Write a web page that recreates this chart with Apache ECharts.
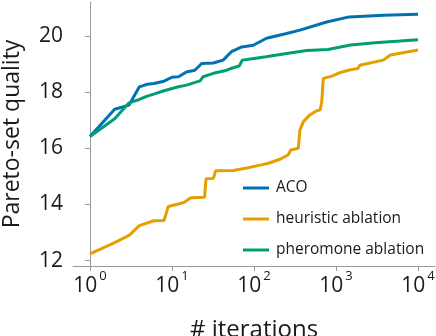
<!DOCTYPE html>
<html>
<head>
<meta charset="utf-8">
<script src="https://cdn.jsdelivr.net/npm/echarts@6/dist/echarts.min.js"></script>
<style>
  html, body { margin: 0; padding: 0; background: #fff; }
  #chart { width: 436px; height: 336px; }
</style>
</head>
<body>
<div id="chart"></div>
<script>
// iterations (x, log scale) and quality values
const acoIter = [1, 2, 3, 4, 5, 6, 8, 10, 12, 15, 19, 23, 32, 42, 53, 71, 98, 142, 250, 363, 770, 1450, 3800, 10000];
const acoQuality = [16.42, 17.39, 17.54, 18.19, 18.28, 18.31, 18.39, 18.53, 18.55, 18.72, 18.78, 19.02, 19.04, 19.14, 19.44, 19.61, 19.67, 19.92, 20.09, 20.21, 20.5, 20.68, 20.74, 20.77];

const heurIter = [1, 2, 3, 4, 6, 8, 9, 12, 14, 17, 25, 26, 32, 34, 56, 82, 123, 150, 208, 262, 281, 347, 363, 400, 480, 580, 640, 670, 700, 890, 1100, 1460, 1850, 1950, 3760, 4600, 10000];
const heurQuality = [12.24, 12.64, 12.9, 13.25, 13.42, 13.43, 13.93, 14.02, 14.07, 14.24, 14.26, 14.92, 14.93, 15.2, 15.21, 15.3, 15.41, 15.47, 15.61, 15.77, 15.94, 16.0, 16.65, 16.95, 17.19, 17.34, 17.36, 17.66, 18.49, 18.57, 18.69, 18.79, 18.84, 18.96, 19.14, 19.32, 19.5];

const pherIter = [1, 2, 3, 4, 5, 6, 8, 12, 15, 22, 24, 32, 44, 52, 66, 72, 100, 140, 250, 440, 800, 1500, 3000, 6000, 10000];
const pherQuality = [16.42, 17.05, 17.62, 17.74, 17.86, 17.93, 18.05, 18.19, 18.25, 18.4, 18.55, 18.67, 18.76, 18.84, 18.93, 19.14, 19.2, 19.26, 19.38, 19.48, 19.52, 19.68, 19.76, 19.82, 19.87];

const xTickExp = [0, 1, 2, 3, 4];
const yTicks = [12, 14, 16, 18, 20];

const font = '"Open Sans", "Noto Sans", sans-serif';
const textColor = '#1a1a1a';
const axisColor = '#9a9a9a';

// x axis is log10(iterations)
const toPoints = (iters, vals) => iters.map((it, i) => [Math.log10(it), vals[i]]);

const chart = echarts.init(document.getElementById('chart'));

const option = {
  animation: false,
  grid: { left: 73, right: 1, top: 2, bottom: 70, outerBoundsMode: 'none', containLabel: false },
  legend: {
    orient: 'vertical',
    left: 243,
    top: 180,
    padding: 0,
    itemGap: 15,
    itemWidth: 26,
    itemHeight: 3,
    icon: 'rect',
    textStyle: { fontFamily: font, fontSize: 15.5, lineHeight: 15, color: textColor, padding: [0, 0, 0, 2] },
    data: ['ACO', 'heuristic ablation', 'pheromone ablation'],
  },
  xAxis: {
    type: 'value',
    min: -0.207,
    max: 4.207,
    name: '# iterations',
    nameLocation: 'middle',
    nameGap: 52,
    nameTextStyle: { fontFamily: font, fontSize: 24, color: textColor },
    axisLine: { lineStyle: { color: axisColor, width: 1 } },
    axisTick: { show: true, length: 5, lineStyle: { color: axisColor }, customValues: xTickExp },
    axisLabel: {
      customValues: xTickExp,
      margin: 10,
      formatter: v => '{b|10}{s|' + v + '}',
      rich: {
        b: { fontFamily: font, fontSize: 21, lineHeight: 21, color: textColor, verticalAlign: 'bottom' },
        s: { fontFamily: font, fontSize: 13, lineHeight: 13, color: textColor, padding: [0, 0, 14, 2], verticalAlign: 'bottom' },
      },
    },
    splitLine: { show: false },
  },
  yAxis: {
    type: 'value',
    min: 11.81,
    max: 21.21,
    name: 'Pareto-set quality',
    nameLocation: 'middle',
    nameGap: 49,
    nameTextStyle: { fontFamily: font, fontSize: 23, color: textColor },
    axisLine: { show: true, lineStyle: { color: axisColor, width: 1 } },
    axisTick: { show: true, length: 5, lineStyle: { color: axisColor }, customValues: yTicks },
    axisLabel: { customValues: yTicks, margin: 10, fontFamily: font, fontSize: 21, color: textColor },
    splitLine: { show: false },
  },
  series: [
    {
      name: 'ACO',
      type: 'line',
      showSymbol: false,
      color: '#0072B2',
      lineStyle: { width: 3 },
      data: toPoints(acoIter, acoQuality),
      z: 3,
    },
    {
      name: 'heuristic ablation',
      type: 'line',
      showSymbol: false,
      color: '#E69F00',
      lineStyle: { width: 3 },
      data: toPoints(heurIter, heurQuality),
      z: 2,
    },
    {
      name: 'pheromone ablation',
      type: 'line',
      showSymbol: false,
      color: '#009E73',
      lineStyle: { width: 3 },
      data: toPoints(pherIter, pherQuality),
      z: 4,
    },
  ],
};

chart.setOption(option);
</script>
</body>
</html>
